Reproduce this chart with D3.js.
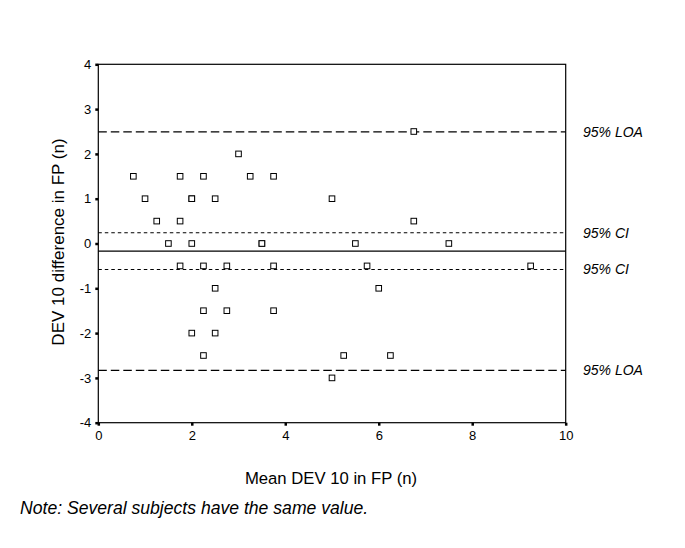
<!DOCTYPE html>
<html><head><meta charset="utf-8">
<script src="https://cdn.jsdelivr.net/npm/d3@7"></script>
<style>body{margin:0;background:#fff;} text{font-family:"Liberation Sans",Arial,Helvetica,sans-serif;}</style>
</head><body>
<svg id="c" width="685" height="548"></svg>
<script>
// data: mean (x) and difference (y)
const meanVals = [0.75,1.0,1.25,1.5,1.75,1.75,1.75,2.0,2.0,2.0,2.0,2.25,2.25,2.25,2.25,2.5,2.5,2.5,2.75,2.75,3.0,3.25,3.5,3.5,3.75,3.75,3.75,5.0,5.0,5.25,5.5,5.75,6.0,6.25,6.75,6.75,7.5,9.25];
const diffVals = [1.5,1.0,0.5,0,1.5,0.5,-0.5,1.0,1.0,0,-2,1.5,-0.5,-1.5,-2.5,1.0,-1,-2,-0.5,-1.5,2.0,1.5,0,0,1.5,-0.5,-1.5,1.0,-3,-2.5,0,-0.5,-1,-2.5,2.5,0.5,0,-0.5];
const refNames = ["95% LOA","95% CI","mean","95% CI","95% LOA"];
const refValues = [2.49,0.24,-0.17,-0.58,-2.83];
const refKinds = ["loa","ci","mean","ci","loa"];
const xTicks = [0,2,4,6,8,10];
const yTicks = [-4,-3,-2,-1,0,1,2,3,4];

const svg = d3.select("#c");
const L=98.3, R=565.7, T=64.3, B=422.7;
const x = d3.scaleLinear().domain([0,10]).range([L,R]);
const y = d3.scaleLinear().domain([-4,4]).range([B,T]);

// frame
svg.append("rect").attr("x",L).attr("y",T).attr("width",R-L).attr("height",B-T)
  .attr("fill","none").attr("stroke","#000").attr("stroke-width",1.2);

// axes
const ya = svg.append("g").attr("transform",`translate(${L},0)`)
  .call(d3.axisLeft(y).tickValues(yTicks).tickSize(3).tickPadding(4).tickFormat(d=>String(d)));
const xa = svg.append("g").attr("transform",`translate(0,${B})`)
  .call(d3.axisBottom(x).tickValues(xTicks).tickSize(3).tickPadding(5).tickFormat(d=>String(d)));
[ya,xa].forEach(g=>{
  g.select(".domain").remove();
  g.selectAll(".tick line").attr("stroke","#000").attr("stroke-width",2.5);
  g.selectAll(".tick text").attr("font-size",13).attr("fill","#000")
   .attr("font-family","Liberation Sans, Arial, sans-serif");
});

// reference lines
const dash = {loa:"8.5,4", ci:"3.5,3", mean:null};
svg.selectAll("line.ref").data(refValues).join("line").attr("class","ref")
  .attr("x1",L).attr("x2",R).attr("y1",d=>y(d)).attr("y2",d=>y(d))
  .attr("stroke","#000").attr("stroke-width",(d,i)=>refKinds[i]==="ci"?1.1:1.3)
  .attr("stroke-dasharray",(d,i)=>dash[refKinds[i]]);
svg.selectAll("text.ref").data(refValues.map((v,i)=>({v,n:refNames[i]})).filter(d=>d.n!=="mean"))
  .join("text").attr("class","ref").attr("x",583).attr("y",d=>y(d.v)+5)
  .attr("font-size",14).attr("font-style","italic").text(d=>d.n);

// points
const pts = meanVals.map((m,i)=>({m,d:diffVals[i]}));
svg.selectAll("rect.pt").data(pts).join("rect").attr("class","pt")
  .attr("x",d=>x(d.m)-2.8).attr("y",d=>y(d.d)-2.8).attr("width",5.6).attr("height",5.6)
  .attr("fill","#fff").attr("stroke","#000").attr("stroke-width",1);

// titles
svg.append("text").attr("x",331).attr("y",484).attr("text-anchor","middle")
  .attr("font-size",16.7).text("Mean DEV 10 in FP (n)");
svg.append("text").attr("transform",`translate(64,242) rotate(-90)`).attr("text-anchor","middle")
  .attr("font-size",17).text("DEV 10 difference in FP (n)");
svg.append("text").attr("x",20).attr("y",514).attr("font-size",17.6).attr("font-style","italic")
  .text("Note: Several subjects have the same value.");
</script>
</body></html>
